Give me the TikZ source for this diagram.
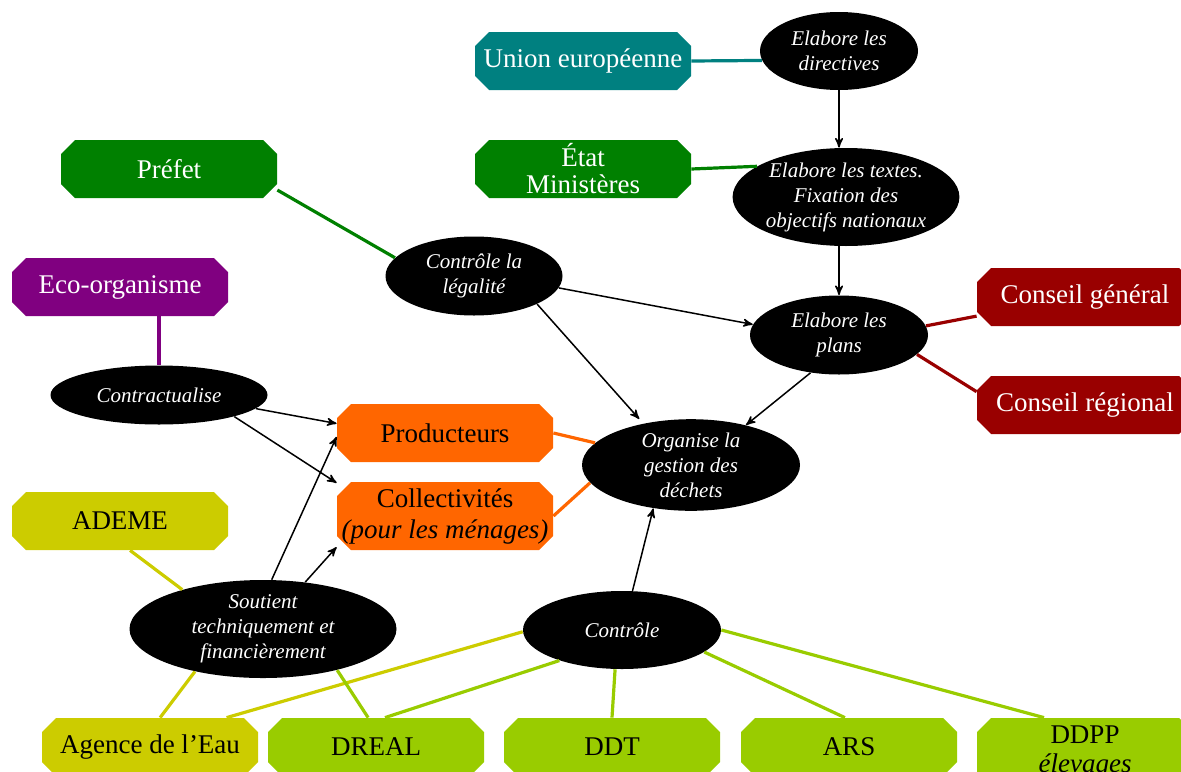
\documentclass[tikz,border=0pt]{standalone}
\usepackage{fontspec}
\setmainfont{Liberation Serif}
\usetikzlibrary{arrows}
\usetikzlibrary{shapes.geometric}
\definecolor{ueteal}{HTML}{008080}
\definecolor{etatgreen}{HTML}{008000}
\definecolor{ecopurple}{HTML}{800080}
\definecolor{conseilred}{HTML}{990000}
\definecolor{prodorange}{HTML}{FF6600}
\definecolor{ademeolive}{HTML}{CCCC00}
\definecolor{ctrllime}{HTML}{99CC00}
\tikzset{
 acteur/.style={rectangle, minimum width=108pt, minimum height=29pt, inner sep=0pt, align=center,
  font=\fontsize{13.5}{13.5}\selectfont,
  path picture={\fill[#1] ([xshift=7pt]path picture bounding box.south west)
   -- ([xshift=-7pt]path picture bounding box.south east)
   -- ([yshift=7pt]path picture bounding box.south east)
   -- ([yshift=-7pt]path picture bounding box.north east)
   -- ([xshift=-7pt]path picture bounding box.north east)
   -- ([xshift=7pt]path picture bounding box.north west)
   -- ([yshift=-7pt]path picture bounding box.north west)
   -- ([yshift=7pt]path picture bounding box.south west) -- cycle;}},
 action/.style={ellipse, fill=black, text=white, inner sep=0pt, align=center,
  font=\fontsize{10.5}{12.5}\selectfont\itshape},
 lien/.style={line width=1.6pt},
 fleche/.style={->, >=stealth', line width=.75pt}
}
\begin{document}
\begin{tikzpicture}[x=.5pt,y=-.5pt]
\useasboundingbox (0,0) rectangle (1181,771);
\node[acteur=ueteal, text=white] (ue) at (583,61) {Union européenne};
\node[acteur=etatgreen, text=white] (etat) at (583,169) {État\\Ministères};
\node[acteur=etatgreen, text=white] (prefet) at (169,169) {Préfet};
\node[acteur=ecopurple, text=white] (eco) at (120,287) {Eco-organisme};
\node[acteur=conseilred, text=white] (cg) at (1085,297) {Conseil général};
\node[acteur=conseilred, text=white] (cr) at (1085,405) {Conseil régional};
\node[acteur=prodorange] (prod) at (445,433) {Producteurs};
\node[acteur=prodorange, minimum height=34pt] (coll) at (445,516) {Collectivités\\[2pt]\textit{(pour les ménages)}};
\node[acteur=ademeolive] (ademe) at (120,521) {ADEME};
\node[acteur=ademeolive] (agence) at (150,747) {Agence de l'Eau};
\node[acteur=ctrllime] (dreal) at (376,747) {DREAL};
\node[acteur=ctrllime] (ddt) at (612,747) {DDT};
\node[acteur=ctrllime] (ars) at (849,747) {ARS};
\node[acteur=ctrllime, minimum height=34pt] (ddpp) at (1085,752) {DDPP\\[1pt]\textit{élevages}};

\node[action, minimum width=79pt, minimum height=39pt] (dir) at (839,51) {Elabore les\\directives};
\node[action, minimum width=106pt, minimum height=49pt] (txt) at (846,197) {Elabore les textes.\\Fixation des\\objectifs nationaux};
\node[action, minimum width=88.5pt, minimum height=39.5pt] (leg) at (474,276) {Contrôle la\\légalité};
\node[action, minimum width=89pt, minimum height=39.5pt] (plans) at (839,335) {Elabore les\\plans};
\node[action, minimum width=108.5pt, minimum height=29.5pt] (contr) at (159,395) {Contractualise};
\node[action, minimum width=109pt, minimum height=45pt] (org) at (691,465) {Organise la\\gestion des\\déchets};
\node[action, minimum width=133.5pt, minimum height=49pt] (sout) at (263,629) {Soutient\\techniquement et\\financièrement};
\node[action, minimum width=99pt, minimum height=39pt] (ctrl) at (622,630) {Contrôle};

\draw[lien, ueteal] (ue.east) -- (dir.187);
\draw[lien, etatgreen] (etat.east) -- (txt.161);
\draw[lien, etatgreen] (prefet.-11) -- (leg.167);
\draw[lien, ecopurple] (contr.north |- eco.south) -- (contr.north);
\draw[lien, conseilred] (cg.190) -- (plans.6);
\draw[lien, conseilred] (cr.173) -- (plans.-14);
\draw[lien, prodorange] (prod.east) -- (org.167);
\draw[lien, prodorange] (coll.east) -- (org.190);
\draw[lien, ademeolive] (ademe.-71) -- (sout.154);
\draw[lien, ademeolive] (agence.71) -- (sout.-148);
\draw[lien, ademeolive] (agence.21) -- (ctrl.181);
\draw[lien, ctrllime] (dreal.105) -- (sout.-29);
\foreach \n/\a/\b in {dreal/73/206, ddt/90/-100, ars/98/-15, ddpp/140/0}
 \draw[lien, ctrllime] (\n.\a) -- (ctrl.\b);

\draw[fleche] (dir.south) -- (dir.south |- txt.north);
\draw[fleche] (plans.north |- txt.south) -- (plans.north);
\draw[fleche] (leg.-8) -- (plans.173);
\draw[fleche, shorten >=3pt] (leg.-24) -- (org.139);
\draw[fleche] (plans.-127) -- (org.36);
\draw[fleche] (contr.-8) -- (prod.175);
\draw[fleche] (contr.-16) -- (coll.163);
\draw[fleche] (sout.80) -- (prod.182);
\draw[fleche] (sout.48) -- (coll.196);
\draw[fleche] (ctrl.75) -- (org.229);
\end{tikzpicture}
\end{document}
